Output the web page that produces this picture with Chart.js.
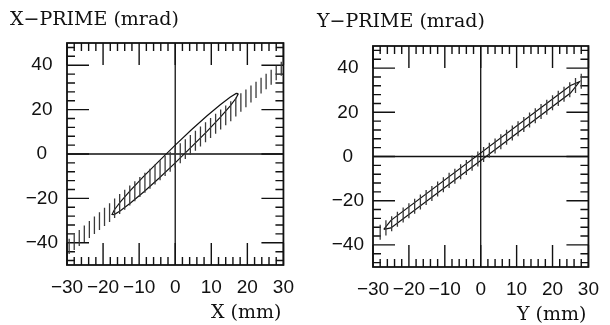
<!DOCTYPE html>
<html>
<head>
<meta charset="utf-8">
<script src="https://cdn.jsdelivr.net/npm/chart.js@4.4.1/dist/chart.umd.min.js"></script>
<style>
    html, body { margin: 0; padding: 0; background: #fff; }
    #wrap { position: relative; width: 610px; height: 325px; }
    .pane { position: absolute; top: 0; width: 305px; height: 325px; }
</style>
</head>
<body>
<div id="wrap">
    <div class="pane" style="left:0"><canvas id="ChartX" width="305" height="325"></canvas></div>
    <div class="pane" style="left:305px"><canvas id="ChartY" width="305" height="325"></canvas></div>
</div>
<script>
// axis labels
const xTickVals = [-30, -20, -10, 0, 10, 20, 30];
const yTickVals = [-40, -20, 0, 20, 40];
const X_MINOR_STEP = 2;
const Y_MINOR_STEP = 4;

// X plane: hatched acceptance band (vertical strokes) + beam ellipse
const hatchX_pos = [-29.4, -28.0, -26.6, -25.2, -23.8, -22.4, -21.0, -19.6, -18.2, -16.8, -15.4, -14.0, -12.6, -11.2,
                    -9.8, -8.4, -7.0, -5.6, -4.2, -2.8, -1.4, 0.0, 1.4, 2.8, 4.2, 5.6, 7.0, 8.4, 9.8, 11.2, 12.6,
                    14.0, 15.4, 16.8, 18.2, 19.6, 21.0, 22.4, 23.8, 25.2, 26.6, 28.0, 29.4];
const hatchX_lo  = [-45.0, -43.2, -41.4, -39.6, -37.8, -36.0, -34.2, -32.4, -30.6, -28.8, -27.0, -25.1, -23.2, -21.3,
                    -19.4, -17.5, -15.6, -13.7, -11.8, -9.9, -8.0, -6.1, -4.2, -2.3, -0.4, 1.5, 3.4, 5.3, 7.2, 9.1, 11.0,
                    12.9, 14.8, 16.9, 19.0, 21.1, 23.2, 25.2, 27.2, 29.2, 31.2, 33.2, 35.2];
const hatchX_hi  = [-38.2, -36.2, -34.2, -32.2, -30.2, -28.2, -26.2, -24.2, -22.2, -20.0, -18.0, -16.1, -14.2, -12.3,
                    -10.4, -8.5, -6.6, -4.7, -2.8, -0.9, 1.0, 2.9, 4.8, 6.7, 8.6, 10.5, 12.4, 14.3, 16.2, 18.1, 20.0,
                    21.9, 23.8, 25.5, 27.4, 29.1, 30.8, 32.6, 34.4, 36.2, 38.0, 39.8, 41.6];
const ellipseX_x = [17.5, 16.9, 15.2, 12.4, 8.75, 4.5, 0.0, -4.5, -8.75, -12.4, -15.2, -16.9, -17.5,
                    -16.9, -15.2, -12.4, -8.75, -4.5, 0.0, 4.5, 8.75, 12.4, 15.2, 16.9, 17.5];
const ellipseX_y = [27.2, 27.3, 25.6, 22.1, 17.1, 10.9, 4.0, -3.2, -10.1, -16.4, -21.6, -25.2, -27.2,
                    -27.3, -25.6, -22.1, -17.1, -10.9, -4.0, 3.2, 10.1, 16.4, 21.6, 25.2, 27.2];

// Y plane
const hatchY_pos = [-28.0, -26.4, -24.8, -23.2, -21.6, -20.0, -18.4, -16.8, -15.2, -13.6, -12.0, -10.4, -8.8, -7.2,
                    -5.6, -4.0, -2.4, -0.8, 0.8, 2.4, 4.0, 5.6, 7.2, 8.8, 10.4, 12.0, 13.6, 15.2, 16.8, 18.4,
                    20.0, 21.6, 23.2, 24.8, 26.4, 28.0];
const hatchY_lo  = [-37.7, -35.7, -33.8, -31.8, -29.9, -27.9, -25.9, -24.0, -22.0, -20.1, -18.1, -16.2, -14.2, -12.3,
                    -10.3, -8.4, -6.4, -4.5, -2.5, -0.6, 1.4, 3.3, 5.3, 7.2, 9.2, 11.1, 13.1, 15.0, 17.0, 18.9,
                    20.9, 22.9, 24.8, 26.8, 28.7, 30.7];
const hatchY_hi  = [-30.9, -28.9, -27.0, -25.0, -23.1, -21.1, -19.1, -17.2, -15.2, -13.3, -11.3, -9.4, -7.4, -5.5,
                    -3.5, -1.6, 0.4, 2.3, 4.3, 6.2, 8.2, 10.1, 12.1, 14.0, 16.0, 17.9, 19.9, 21.8, 23.8, 25.7,
                    27.7, 29.7, 31.6, 33.6, 35.5, 37.5];
const ellipseY_x = [-27.0, -25.0, 25.0, 27.5, 25.0, -25.0, -27.0];
const ellipseY_y = [-33.0, -28.9, 32.1, 33.8, 28.7, -32.3, -33.0];

const INK = '#111';
const HATCH = '#3a3a3a';
const SERIF = '"DejaVu Serif", "Liberation Serif", serif';
const SANS = '"Liberation Sans", Arial, sans-serif';

function BuildHatchPoints(xs, lo, hi)
{
    var pts = [];
    for (let i = 0; i < xs.length; i++)
    {
        pts.push({x: xs[i], y: lo[i]});
        pts.push({x: xs[i], y: hi[i]});
        pts.push({x: xs[i], y: null});     // break between strokes
    }
    return pts;
}

function BuildOutlinePoints(xs, ys)
{
    var pts = [];
    for (let i = 0; i < xs.length; i++)
    {
        pts.push({x: xs[i], y: ys[i]});
    }
    return pts;
}

function MinorList(min, max, step, majorEvery)
{
    var vals = [];
    for (let v = min; v <= max; v += step)
    {
        if (v % majorEvery != 0) vals.push(v);
    }
    return vals;
}

function MinusLabel(v)
{
    return String(v).replace('-', '\u2212');
}

const FramePlugin = {
    id: 'frame',
    beforeDatasetsDraw(chart, args, opts)
    {
        const ctx = chart.ctx;
        const a = chart.chartArea;
        const xs = chart.scales.x;
        const ys = chart.scales.y;

        ctx.save();
        ctx.strokeStyle = INK;

        // zero lines
        ctx.lineWidth = 1.3;
        ctx.beginPath();
        ctx.moveTo(xs.getPixelForValue(0), a.top);
        ctx.lineTo(xs.getPixelForValue(0), a.bottom);
        ctx.moveTo(a.left, ys.getPixelForValue(0));
        ctx.lineTo(a.right, ys.getPixelForValue(0));
        ctx.stroke();

        // inward ticks on all four sides
        const drawX = (v, len) => {
            const p = xs.getPixelForValue(v);
            ctx.moveTo(p, a.bottom); ctx.lineTo(p, a.bottom - len);
            ctx.moveTo(p, a.top);    ctx.lineTo(p, a.top + len);
        };
        const drawY = (v, len) => {
            const p = ys.getPixelForValue(v);
            ctx.moveTo(a.left, p);  ctx.lineTo(a.left + len, p);
            ctx.moveTo(a.right, p); ctx.lineTo(a.right - len, p);
        };
        ctx.lineWidth = 1.4;
        ctx.beginPath();
        xTickVals.forEach(v => drawX(v, 22));
        yTickVals.forEach(v => drawY(v, 22));
        MinorList(-28, 28, X_MINOR_STEP, 10).forEach(v => drawX(v, 8));
        MinorList(-48, 48, Y_MINOR_STEP, 20).forEach(v => drawY(v, 8));
        ctx.stroke();

        // frame
        ctx.lineWidth = 1.8;
        ctx.strokeRect(a.left, a.top, a.right - a.left, a.bottom - a.top);
        ctx.restore();
    },
    afterDraw(chart, args, opts)
    {
        const ctx = chart.ctx;
        ctx.save();
        ctx.fillStyle = INK;
        ctx.font = '19px ' + SERIF;
        ctx.textBaseline = 'alphabetic';
        ctx.textAlign = 'left';
        ctx.fillText(opts.title, opts.titleX, opts.titleY);
        ctx.textAlign = 'right';
        ctx.fillText(opts.axisTitle, chart.chartArea.right - 2, opts.axisTitleY);
        ctx.restore();
    }
};

function MakeChart(canvasId, hatchPts, outlinePts, geo)
{
    return new Chart(document.getElementById(canvasId), {
        type: 'scatter',
        data: {
            datasets: [
                {
                    data: hatchPts,
                    showLine: true,
                    spanGaps: false,
                    borderColor: HATCH,
                    borderWidth: 1.3,
                    pointRadius: 0
                },
                {
                    data: outlinePts,
                    showLine: true,
                    borderColor: INK,
                    borderWidth: 1.2,
                    pointRadius: 0
                }
            ]
        },
        options: {
            responsive: false,
            animation: false,
            events: [],
            layout: { padding: { top: geo.top, right: 18, left: 0, bottom: 0 } },
            scales: {
                x: {
                    type: 'linear',
                    min: -30, max: 30,
                    grid: { display: false, drawTicks: false },
                    border: { display: false },
                    afterBuildTicks: s => { s.ticks = xTickVals.map(v => ({value: v})); },
                    afterFit: s => { s.height = geo.xHeight; },
                    ticks: {
                        padding: 11,
                        maxRotation: 0,
                        autoSkip: false,
                        color: INK,
                        font: { family: SANS, size: 19 },
                        callback: v => MinusLabel(v)
                    }
                },
                y: {
                    type: 'linear',
                    min: -50, max: 50,
                    grid: { display: false, drawTicks: false },
                    border: { display: false },
                    afterBuildTicks: s => { s.ticks = yTickVals.map(v => ({value: v})); },
                    afterFit: s => { s.width = geo.yWidth; },
                    ticks: {
                        padding: 9,
                        crossAlign: 'center',
                        color: INK,
                        font: { family: SANS, size: 19 },
                        callback: v => MinusLabel(v)
                    }
                }
            },
            plugins: {
                legend: { display: false },
                tooltip: { enabled: false },
                frame: {
                    title: geo.title,
                    titleX: geo.titleX,
                    titleY: geo.titleY,
                    axisTitle: geo.axisTitle,
                    axisTitleY: geo.axisTitleY
                }
            }
        },
        plugins: [FramePlugin]
    });
}

MakeChart('ChartX',
    BuildHatchPoints(hatchX_pos, hatchX_lo, hatchX_hi),
    BuildOutlinePoints(ellipseX_x, ellipseX_y),
    { top: 43, xHeight: 60, yWidth: 67, title: 'X\u2212PRIME (mrad)', titleX: 10, titleY: 25,
      axisTitle: 'X (mm)', axisTitleY: 318 });

MakeChart('ChartY',
    BuildHatchPoints(hatchY_pos, hatchY_lo, hatchY_hi),
    BuildOutlinePoints(ellipseY_x, ellipseY_y),
    { top: 46, xHeight: 58, yWidth: 68, title: 'Y\u2212PRIME (mrad)', titleX: 12, titleY: 27,
      axisTitle: 'Y (mm)', axisTitleY: 320 });
</script>
</body>
</html>
